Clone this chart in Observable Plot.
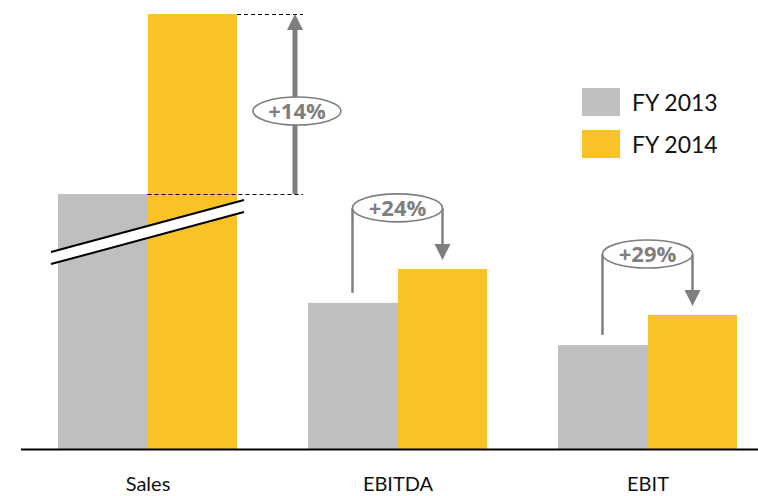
<!DOCTYPE html>
<html>
<head>
<meta charset="utf-8">
<script src="https://cdn.jsdelivr.net/npm/d3@7"></script>
<script src="https://cdn.jsdelivr.net/npm/@observablehq/plot@0.6"></script>
<style>
  html, body { margin: 0; padding: 0; background: #fff; }
  #wrap { position: relative; width: 758px; height: 496px; font-family: Lato, "Open Sans", sans-serif; }
  #legend { position: absolute; left: 582px; top: 88px; }
  .item { display: flex; align-items: center; height: 28px; margin-bottom: 14px; font-size: 23px; color: #111; }
  .sw { width: 38px; height: 28px; margin-right: 12px; }
</style>
</head>
<body>
<div id="wrap"><div id="legend"></div></div>
<script>
// ---- data (display units; Sales axis is broken in the original) ----
const categories = ["Sales", "EBITDA", "EBIT"];
const fy2013 = [58.6, 33.6, 23.9];
const fy2014 = [100, 41.4, 30.8];
const growth = ["+14%", "+24%", "+29%"];
const seriesNames = ["FY 2013", "FY 2014"];
const colors = ["#BFBFBF", "#F9C328"];

const data = categories.map((c, i) => ({cat: c, v2013: fy2013[i], v2014: fy2014[i], g: growth[i]}));

const GRAY = "#7F7F7F";
const LABEL_FONT = "'Open Sans', Lato, sans-serif";

function annotations(index, scales) {
  const x = scales.x, y = scales.y, bw = x.bandwidth();
  const g = d3.create("svg:g");
  const label = (cx, cy, t) => g.append("text").attr("x", cx).attr("y", cy).attr("dy", "0.36em")
    .attr("text-anchor", "middle").attr("fill", GRAY).attr("font-family", LABEL_FONT)
    .attr("font-size", 22).attr("font-weight", 700).text(t);
  data.forEach((d, i) => {
    const x0 = x(d.cat), xc = x0 + bw / 2, x1 = x0 + bw;
    const y13 = y(d.v2013), y14 = y(d.v2014);
    if (i === 0) {
      // broken-axis marker
      const lx = x0 - 7, rx = x1 + 7;
      g.append("polygon")
        .attr("points", `${lx},${y13 + 58} ${rx},${y13 + 6} ${rx},${y13 + 18} ${lx},${y13 + 70}`)
        .attr("fill", "#fff");
      [0, 12].forEach(o => g.append("line")
        .attr("x1", lx).attr("y1", y13 + 58 + o).attr("x2", rx).attr("y2", y13 + 6 + o)
        .attr("stroke", "#000").attr("stroke-width", 2));
      // dashed guides
      const t = Math.round(y14) + 0.5, b = Math.round(y13) + 0.5;
      g.append("line").attr("x1", x1).attr("x2", x1 + 66).attr("y1", t).attr("y2", t)
        .attr("stroke", "#000").attr("stroke-width", 1).attr("stroke-dasharray", "4,3");
      g.append("line").attr("x1", xc).attr("x2", x1 + 66).attr("y1", b).attr("y2", b)
        .attr("stroke", "#000").attr("stroke-width", 1).attr("stroke-dasharray", "4,3");
      // arrow
      const ax = x1 + 58;
      g.append("line").attr("x1", ax).attr("x2", ax).attr("y1", y13).attr("y2", y14 + 15)
        .attr("stroke", GRAY).attr("stroke-width", 5);
      g.append("polygon").attr("points", `${ax - 8},${y14 + 16} ${ax + 8},${y14 + 16} ${ax},${y14}`)
        .attr("fill", GRAY);
      const ey = (y13 + y14) / 2 + 7;
      g.append("ellipse").attr("cx", ax + 2).attr("cy", ey).attr("rx", 44).attr("ry", 14)
        .attr("fill", "#fff").attr("stroke", GRAY).attr("stroke-width", 1.6);
      label(ax + 2, ey, d.g);
    } else {
      const xl = xc - 45, xr = xc + 45, yc = y14 - 61;
      g.append("line").attr("x1", xl).attr("x2", xl).attr("y1", y13 - 10).attr("y2", yc)
        .attr("stroke", GRAY).attr("stroke-width", 2.5);
      g.append("line").attr("x1", xr).attr("x2", xr).attr("y1", yc).attr("y2", y14 - 24)
        .attr("stroke", GRAY).attr("stroke-width", 2.5);
      g.append("polygon").attr("points", `${xr - 8},${y14 - 25} ${xr + 8},${y14 - 25} ${xr},${y14 - 9}`)
        .attr("fill", GRAY);
      g.append("ellipse").attr("cx", xc).attr("cy", yc).attr("rx", 45).attr("ry", 14)
        .attr("fill", "#fff").attr("stroke", GRAY).attr("stroke-width", 1.6);
      label(xc, yc, d.g);
    }
  });
  return g.node();
}

const chart = Plot.plot({
  width: 758,
  height: 496,
  marginTop: 14,
  marginBottom: 47,
  marginLeft: 21,
  marginRight: 0,
  style: {fontFamily: "Lato, 'Open Sans', sans-serif", background: "#fff", overflow: "visible"},
  x: {domain: categories, paddingInner: 0.283, paddingOuter: 0.11, align: 0.64, label: null},
  y: {domain: [0, 100], axis: null},
  marks: [
    Plot.barY(data, {x: "cat", y: "v2013", fill: colors[0], insetRight: 89}),
    Plot.barY(data, {x: "cat", y: "v2014", fill: colors[1], insetLeft: 90}),
    Plot.ruleY([0], {stroke: "#000", strokeWidth: 2}),
    Plot.axisX({tickSize: 0, tickPadding: 27, fontSize: 20, fill: "#111", label: null}),
    annotations
  ]
});
document.getElementById("wrap").prepend(chart);

const legend = document.getElementById("legend");
seriesNames.forEach((s, i) => {
  const it = document.createElement("div");
  it.className = "item";
  it.innerHTML = `<div class="sw" style="background:${colors[i]}"></div><span>${s}</span>`;
  legend.appendChild(it);
});
</script>
</body>
</html>
